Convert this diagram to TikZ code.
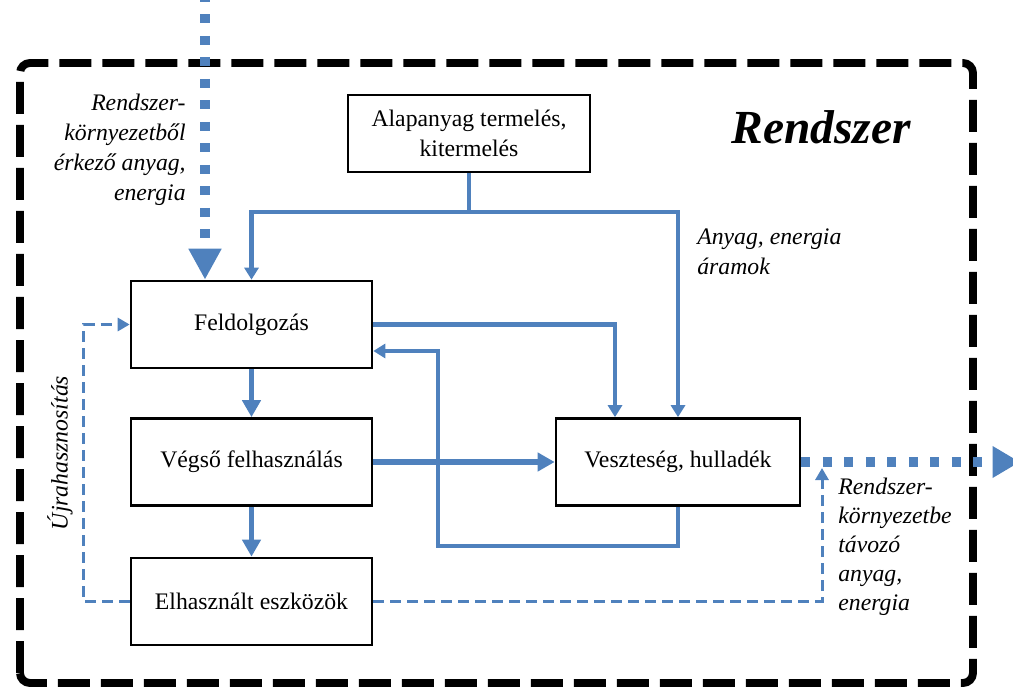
\documentclass[tikz,border=0pt]{standalone}
\usepackage{fontspec}
\setmainfont{Liberation Serif}
\usetikzlibrary{arrows.meta}
\definecolor{flowblue}{HTML}{4F81BD}

\begin{document}
\begin{tikzpicture}[>=Stealth,
  box/.style={draw, line width=1.5pt, minimum width=4.82cm, minimum height=1.74cm, align=center, font=\fontsize{13.5}{17}\selectfont},
  lbl/.style={inner sep=0pt, font=\fontsize{13.5}{17}\selectfont\itshape},
  flow/.style={draw=flowblue, line width=2.3pt, -{Triangle[length=0.24cm,width=0.28cm]}},
  mainflow/.style={draw=flowblue, line width=3.4pt, -{Triangle[length=0.34cm,width=0.36cm]}},
  reuse/.style={draw=flowblue, line width=1.7pt, dash pattern=on 0.22cm off 0.12cm, -{Triangle[length=0.24cm,width=0.26cm]}},
  exchange/.style={draw=flowblue, line width=5.5pt, dash pattern=on 0.18cm off 0.25cm}]
  \useasboundingbox (0,0) rectangle (20.26,13.76);

  % system border
  \draw[line width=4.5pt, dash pattern=on 0.64cm off 0.22cm, rounded corners=0.2cm] (0.4,0.1) rectangle (19.46,12.5);
  \node[font=\fontsize{27}{32}\selectfont\bfseries\itshape] (title) at (16.42,11.22) {Rendszer};

  % boxes
  \node[box, minimum width=4.84cm, minimum height=1.54cm] (alap) at (9.38,11.09) {Alapanyag termelés,\\kitermelés};
  \node[box] (feld)  at (5.03,7.27) {Feldolgozás};
  \node[box] (vegso) at (5.03,4.52) {Végső felhasználás};
  \node[box] (elh)   at (5.03,1.73) {Elhasznált eszközök};
  \node[box, minimum width=4.88cm] (veszt) at (13.56,4.52) {Veszteség, hulladék};

  % free ends
  \coordinate (inlet)   at (4.1,13.9);
  \coordinate (exit)    at (20.4,4.52);
  \coordinate (backout) at (16.44,4.40);

  % raw material into processing and losses
  \draw[flow] (alap.south) -- ++(0,-0.78) -| (feld.north);
  \draw[flow] (alap.south) -- ++(0,-0.78) -| (veszt.north);

  % processing -> losses, losses -> processing
  \draw[flow] (feld.east) -| ([xshift=-1.26cm]veszt.north);
  \draw[flow] (veszt.south) -- ++(0,-0.78) -| ([xshift=1.3cm,yshift=-0.53cm]feld.east) -- ([yshift=-0.53cm]feld.east);

  % main chain
  \draw[mainflow] (feld.south) -- (vegso.north);
  \draw[mainflow] (vegso.south) -- (elh.north);
  \draw[mainflow] (vegso.east) -- (veszt.west);

  % recycling
  \draw[reuse] (elh.west) -- ++(-0.92,0) |- (feld.west);
  \draw[reuse] (elh.east) -| (backout);

  % exchange with the environment
  \draw[exchange, -{Triangle[length=0.62cm,width=0.62cm]}] (inlet) -- ([xshift=-0.93cm]feld.north);
  \draw[exchange, -{Triangle[length=0.55cm,width=0.6cm]}] (veszt.east) -- (exit);

  % labels
  \node[lbl, anchor=east, align=right] (inlbl) at (3.72,10.76) {Rendszer-\\környezetből\\érkező anyag,\\energia};
  \node[lbl, anchor=west, align=left] (flowlbl) at (13.94,8.72) {Anyag, energia\\áramok};
  \node[lbl, rotate=90] (reuselbl) at (1.2,4.7) {Újrahasznosítás};
  \node[lbl, anchor=west, align=left, font=\fontsize{13.5}{16.5}\selectfont\itshape] (outlbl) at (16.76,2.82) {Rendszer-\\környezetbe\\távozó\\anyag,\\energia};
\end{tikzpicture}
\end{document}
